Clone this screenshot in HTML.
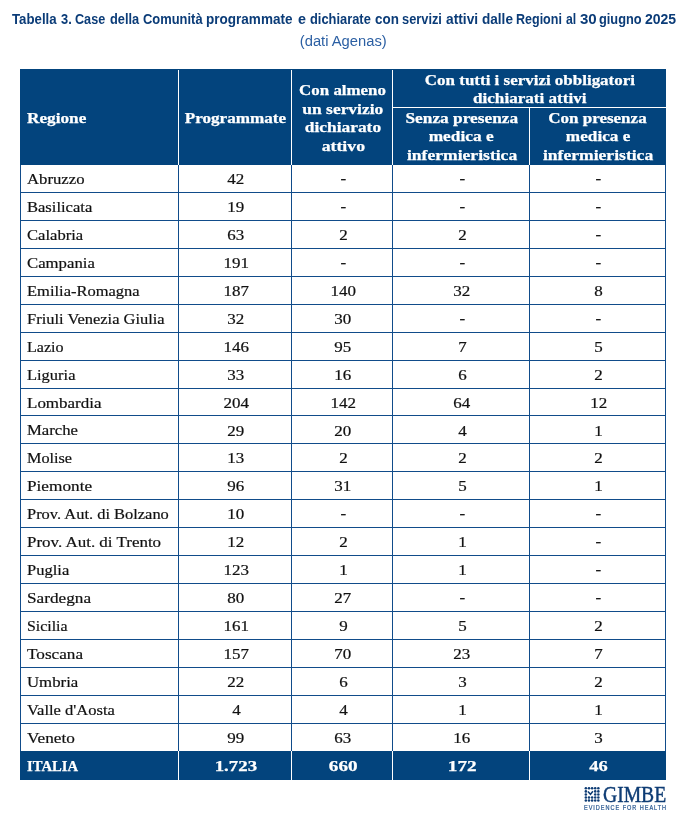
<!DOCTYPE html>
<html><head><meta charset="utf-8"><title>Tabella 3</title>
<style>
html,body{margin:0;padding:0;background:#fff;}
body{width:685px;height:822px;position:relative;overflow:hidden;font-family:"Liberation Serif",serif;}
.abs{position:absolute;}
#wrap{position:absolute;left:0;top:0;width:685px;height:822px;will-change:transform;}
.s{display:inline-block;white-space:nowrap;position:relative;}
.title{top:9px;font-family:"Liberation Sans",sans-serif;font-weight:bold;font-size:14.2px;color:#0B3C78;white-space:nowrap;line-height:20px;}
.title .s{transform-origin:0 50%;}
.sub{left:0;width:688px;top:31px;text-align:center;font-family:"Liberation Sans",sans-serif;font-size:14px;color:#2B5FA3;white-space:nowrap;line-height:20px;}
.hl{position:absolute;height:1px;background:#114C8A;}
.vl{position:absolute;width:1px;background:#114C8A;}
.c{position:absolute;font-size:15.0px;color:#111;line-height:20px;white-space:nowrap;}
.c.l .s{transform-origin:0 50%;}
.n{text-align:center;}
.c.n{font-size:13.6px;}
.c{-webkit-text-stroke:0.2px #111;}
.h{position:absolute;color:#fff;font-weight:bold;font-size:15.0px;line-height:18.5px;text-align:center;white-space:nowrap;}
.h.l .s{transform-origin:0 50%;}
.h,.t{-webkit-text-stroke:0.25px #fff;}
.t{position:absolute;color:#fff;font-weight:bold;font-size:15.0px;line-height:20px;white-space:nowrap;}
.t.l .s{transform-origin:0 50%;}
</style></head><body><div id="wrap">
<div class="abs title" style="left:12.2px"><span class="s" id="tw0" style="left:-0.54px;transform:scaleX(0.9322)">Tabella</span></div><div class="abs title" style="left:61.0px"><span class="s" id="tw1" style="left:-0.23px;transform:scaleX(0.9069)">3.</span></div><div class="abs title" style="left:75.6px"><span class="s" id="tw2" style="left:-0.42px;transform:scaleX(0.8898)">Case</span></div><div class="abs title" style="left:110.3px"><span class="s" id="tw3" style="left:-0.56px;transform:scaleX(0.9025)">della</span></div><div class="abs title" style="left:143.2px"><span class="s" id="tw4" style="left:-0.38px;transform:scaleX(0.9105)">Comunità</span></div><div class="abs title" style="left:207.0px"><span class="s" id="tw5" style="left:-1.40px;transform:scaleX(0.9536)">programmate</span></div><div class="abs title" style="left:298.6px"><span class="s" id="tw6" style="left:-0.71px;transform:scaleX(1.0122)">e</span></div><div class="abs title" style="left:311.0px"><span class="s" id="tw7" style="left:-0.63px;transform:scaleX(0.9074)">dichiarate</span></div><div class="abs title" style="left:375.8px"><span class="s" id="tw8" style="left:-0.77px;transform:scaleX(0.9455)">con</span></div><div class="abs title" style="left:402.6px"><span class="s" id="tw9" style="left:-0.29px;transform:scaleX(0.9035)">servizi</span></div><div class="abs title" style="left:445.8px"><span class="s" id="tw10" style="left:-0.30px;transform:scaleX(0.9696)">attivi</span></div><div class="abs title" style="left:481.9px"><span class="s" id="tw11" style="left:-0.30px;transform:scaleX(0.9566)">dalle</span></div><div class="abs title" style="left:517.0px"><span class="s" id="tw12" style="left:-1.12px;transform:scaleX(0.8818)">Regioni</span></div><div class="abs title" style="left:566.3px"><span class="s" id="tw13" style="left:-0.72px;transform:scaleX(0.8638)">al</span></div><div class="abs title" style="left:580.3px"><span class="s" id="tw14" style="left:-0.62px;transform:scaleX(1.0611)">30</span></div><div class="abs title" style="left:599.7px"><span class="s" id="tw15" style="left:-0.34px;transform:scaleX(0.9017)">giugno</span></div><div class="abs title" style="left:645.9px"><span class="s" id="tw16" style="left:-0.73px;transform:scaleX(0.9871)">2025</span></div>
<div class="abs sub"><span class="s" id="sub" style="left:-0.49px;transform:scaleX(1.0533)">(dati Agenas)</span></div>

<div class="abs" style="left:20px;top:69px;width:646.2px;height:96.0px;background:#03447D"></div>
<div class="abs" style="left:178.0px;top:70px;width:1.2px;height:94.5px;background:#fff"></div>
<div class="abs" style="left:291.0px;top:70px;width:1.2px;height:94.5px;background:#fff"></div>
<div class="abs" style="left:392.1px;top:70px;width:1.2px;height:94.5px;background:#fff"></div>
<div class="abs" style="left:528.8px;top:107.5px;width:1.2px;height:57.0px;background:#fff"></div>
<div class="abs" style="left:392.6px;top:106.6px;width:273.1px;height:1.2px;background:#fff"></div>
<div class="h l" style="left:27px;top:109px;text-align:left"><span class="s" id="hReg" style="left:0.30px;transform:scaleX(1.1479)">Regione</span></div>
<div class="h" style="left:178.5px;width:113.0px;top:109px"><span class="s" id="hProg" style="left:0.24px;transform:scaleX(1.1414)">Programmate</span></div>
<div class="h" style="left:291.5px;width:101.10000000000002px;top:81.2px"><span class="s" id="hA1" style="left:0.76px;transform:scaleX(1.1267)">Con almeno</span><br><span class="s" id="hA2" style="left:1.23px;transform:scaleX(1.1620)">un servizio</span><br><span class="s" id="hA3" style="left:0.46px;transform:scaleX(1.1601)">dichiarato</span><br><span class="s" id="hA4" style="left:0.94px;transform:scaleX(1.1833)">attivo</span></div>
<div class="h" style="left:392.6px;width:273.1px;top:70.5px"><span class="s" id="hT1" style="left:0.55px;transform:scaleX(1.1305)">Con tutti i servizi obbligatori</span><br><span class="s" id="hT2" style="left:0.40px;transform:scaleX(1.1403)">dichiarati attivi</span></div>
<div class="h" style="left:392.6px;width:136.69999999999993px;top:108.5px"><span class="s" id="hS1" style="left:0.58px;transform:scaleX(1.1537)">Senza presenza</span><br><span class="s" id="hS2" style="left:0.57px;transform:scaleX(1.1543)">medica e</span><br><span class="s" id="hS3" style="left:1.11px;transform:scaleX(1.1717)">infermieristica</span></div>
<div class="h" style="left:529.3px;width:136.4000000000001px;top:108.5px"><span class="s" id="hC1" style="left:0.12px;transform:scaleX(1.1345)">Con presenza</span><br><span class="s" id="hC2" style="left:0.84px;transform:scaleX(1.1468)">medica e</span><br><span class="s" id="hC3" style="left:0.56px;transform:scaleX(1.1717)">infermieristica</span></div>
<div class="hl" style="left:20px;top:191.94px;width:645.7px"></div>
<div class="hl" style="left:20px;top:219.88px;width:645.7px"></div>
<div class="hl" style="left:20px;top:247.81px;width:645.7px"></div>
<div class="hl" style="left:20px;top:275.75px;width:645.7px"></div>
<div class="hl" style="left:20px;top:303.69px;width:645.7px"></div>
<div class="hl" style="left:20px;top:331.63px;width:645.7px"></div>
<div class="hl" style="left:20px;top:359.57px;width:645.7px"></div>
<div class="hl" style="left:20px;top:387.50px;width:645.7px"></div>
<div class="hl" style="left:20px;top:415.44px;width:645.7px"></div>
<div class="hl" style="left:20px;top:443.38px;width:645.7px"></div>
<div class="hl" style="left:20px;top:471.32px;width:645.7px"></div>
<div class="hl" style="left:20px;top:499.26px;width:645.7px"></div>
<div class="hl" style="left:20px;top:527.20px;width:645.7px"></div>
<div class="hl" style="left:20px;top:555.13px;width:645.7px"></div>
<div class="hl" style="left:20px;top:583.07px;width:645.7px"></div>
<div class="hl" style="left:20px;top:611.01px;width:645.7px"></div>
<div class="hl" style="left:20px;top:638.95px;width:645.7px"></div>
<div class="hl" style="left:20px;top:666.89px;width:645.7px"></div>
<div class="hl" style="left:20px;top:694.82px;width:645.7px"></div>
<div class="hl" style="left:20px;top:722.76px;width:645.7px"></div>
<div class="vl" style="left:19.5px;top:164.5px;height:586.5px"></div>
<div class="vl" style="left:178.0px;top:164.5px;height:586.5px"></div>
<div class="vl" style="left:291.0px;top:164.5px;height:586.5px"></div>
<div class="vl" style="left:392.1px;top:164.5px;height:586.5px"></div>
<div class="vl" style="left:528.8px;top:164.5px;height:586.5px"></div>
<div class="vl" style="left:665.2px;top:164.5px;height:586.5px"></div>
<div class="c l" style="left:27px;top:169.00px"><span class="s" id="r0" style="left:-0.07px;transform:scaleX(1.1136)">Abruzzo</span></div>
<div class="c n" style="left:179.5px;width:113.0px;top:170.10px"><span class="s" style="transform:scaleX(1.2488970588235293)">42</span></div>
<div class="c n" style="left:292.5px;width:101.10000000000002px;top:170.10px"><span style="position:relative;top:-0.9px;display:inline-block;transform:scaleX(1.25)">-</span></div>
<div class="c n" style="left:393.6px;width:136.69999999999993px;top:170.10px"><span style="position:relative;top:-0.9px;display:inline-block;transform:scaleX(1.25)">-</span></div>
<div class="c n" style="left:530.3px;width:136.4000000000001px;top:170.10px"><span style="position:relative;top:-0.9px;display:inline-block;transform:scaleX(1.25)">-</span></div>
<div class="c l" style="left:27px;top:196.94px"><span class="s" id="r1" style="left:0.24px;transform:scaleX(1.1027)">Basilicata</span></div>
<div class="c n" style="left:179.5px;width:113.0px;top:198.04px"><span class="s" style="transform:scaleX(1.2488970588235293)">19</span></div>
<div class="c n" style="left:292.5px;width:101.10000000000002px;top:198.04px"><span style="position:relative;top:-0.9px;display:inline-block;transform:scaleX(1.25)">-</span></div>
<div class="c n" style="left:393.6px;width:136.69999999999993px;top:198.04px"><span style="position:relative;top:-0.9px;display:inline-block;transform:scaleX(1.25)">-</span></div>
<div class="c n" style="left:530.3px;width:136.4000000000001px;top:198.04px"><span style="position:relative;top:-0.9px;display:inline-block;transform:scaleX(1.25)">-</span></div>
<div class="c l" style="left:27px;top:224.88px"><span class="s" id="r2" style="left:0.24px;transform:scaleX(1.1057)">Calabria</span></div>
<div class="c n" style="left:179.5px;width:113.0px;top:225.98px"><span class="s" style="transform:scaleX(1.2488970588235293)">63</span></div>
<div class="c n" style="left:292.5px;width:101.10000000000002px;top:225.98px"><span class="s" style="transform:scaleX(1.2488970588235293)">2</span></div>
<div class="c n" style="left:393.6px;width:136.69999999999993px;top:225.98px"><span class="s" style="transform:scaleX(1.2488970588235293)">2</span></div>
<div class="c n" style="left:530.3px;width:136.4000000000001px;top:225.98px"><span style="position:relative;top:-0.9px;display:inline-block;transform:scaleX(1.25)">-</span></div>
<div class="c l" style="left:27px;top:252.81px"><span class="s" id="r3" style="left:0.32px;transform:scaleX(1.1154)">Campania</span></div>
<div class="c n" style="left:179.5px;width:113.0px;top:253.91px"><span class="s" style="transform:scaleX(1.2488970588235293)">191</span></div>
<div class="c n" style="left:292.5px;width:101.10000000000002px;top:253.91px"><span style="position:relative;top:-0.9px;display:inline-block;transform:scaleX(1.25)">-</span></div>
<div class="c n" style="left:393.6px;width:136.69999999999993px;top:253.91px"><span style="position:relative;top:-0.9px;display:inline-block;transform:scaleX(1.25)">-</span></div>
<div class="c n" style="left:530.3px;width:136.4000000000001px;top:253.91px"><span style="position:relative;top:-0.9px;display:inline-block;transform:scaleX(1.25)">-</span></div>
<div class="c l" style="left:27px;top:280.75px"><span class="s" id="r4" style="left:0.24px;transform:scaleX(1.0988)">Emilia-Romagna</span></div>
<div class="c n" style="left:179.5px;width:113.0px;top:281.85px"><span class="s" style="transform:scaleX(1.2488970588235293)">187</span></div>
<div class="c n" style="left:292.5px;width:101.10000000000002px;top:281.85px"><span class="s" style="transform:scaleX(1.2488970588235293)">140</span></div>
<div class="c n" style="left:393.6px;width:136.69999999999993px;top:281.85px"><span class="s" style="transform:scaleX(1.2488970588235293)">32</span></div>
<div class="c n" style="left:530.3px;width:136.4000000000001px;top:281.85px"><span class="s" style="transform:scaleX(1.2488970588235293)">8</span></div>
<div class="c l" style="left:27px;top:308.69px"><span class="s" id="r5" style="left:0.35px;transform:scaleX(1.0966)">Friuli Venezia Giulia</span></div>
<div class="c n" style="left:179.5px;width:113.0px;top:309.79px"><span class="s" style="transform:scaleX(1.2488970588235293)">32</span></div>
<div class="c n" style="left:292.5px;width:101.10000000000002px;top:309.79px"><span class="s" style="transform:scaleX(1.2488970588235293)">30</span></div>
<div class="c n" style="left:393.6px;width:136.69999999999993px;top:309.79px"><span style="position:relative;top:-0.9px;display:inline-block;transform:scaleX(1.25)">-</span></div>
<div class="c n" style="left:530.3px;width:136.4000000000001px;top:309.79px"><span style="position:relative;top:-0.9px;display:inline-block;transform:scaleX(1.25)">-</span></div>
<div class="c l" style="left:27px;top:336.63px"><span class="s" id="r6" style="left:0.31px;transform:scaleX(1.0717)">Lazio</span></div>
<div class="c n" style="left:179.5px;width:113.0px;top:337.73px"><span class="s" style="transform:scaleX(1.2488970588235293)">146</span></div>
<div class="c n" style="left:292.5px;width:101.10000000000002px;top:337.73px"><span class="s" style="transform:scaleX(1.2488970588235293)">95</span></div>
<div class="c n" style="left:393.6px;width:136.69999999999993px;top:337.73px"><span class="s" style="transform:scaleX(1.2488970588235293)">7</span></div>
<div class="c n" style="left:530.3px;width:136.4000000000001px;top:337.73px"><span class="s" style="transform:scaleX(1.2488970588235293)">5</span></div>
<div class="c l" style="left:27px;top:364.57px"><span class="s" id="r7" style="left:0.24px;transform:scaleX(1.0969)">Liguria</span></div>
<div class="c n" style="left:179.5px;width:113.0px;top:365.67px"><span class="s" style="transform:scaleX(1.2488970588235293)">33</span></div>
<div class="c n" style="left:292.5px;width:101.10000000000002px;top:365.67px"><span class="s" style="transform:scaleX(1.2488970588235293)">16</span></div>
<div class="c n" style="left:393.6px;width:136.69999999999993px;top:365.67px"><span class="s" style="transform:scaleX(1.2488970588235293)">6</span></div>
<div class="c n" style="left:530.3px;width:136.4000000000001px;top:365.67px"><span class="s" style="transform:scaleX(1.2488970588235293)">2</span></div>
<div class="c l" style="left:27px;top:392.50px"><span class="s" id="r8" style="left:-0.16px;transform:scaleX(1.1324)">Lombardia</span></div>
<div class="c n" style="left:179.5px;width:113.0px;top:393.60px"><span class="s" style="transform:scaleX(1.2488970588235293)">204</span></div>
<div class="c n" style="left:292.5px;width:101.10000000000002px;top:393.60px"><span class="s" style="transform:scaleX(1.2488970588235293)">142</span></div>
<div class="c n" style="left:393.6px;width:136.69999999999993px;top:393.60px"><span class="s" style="transform:scaleX(1.2488970588235293)">64</span></div>
<div class="c n" style="left:530.3px;width:136.4000000000001px;top:393.60px"><span class="s" style="transform:scaleX(1.2488970588235293)">12</span></div>
<div class="c l" style="left:27px;top:420.44px"><span class="s" id="r9" style="left:0.15px;transform:scaleX(1.1119)">Marche</span></div>
<div class="c n" style="left:179.5px;width:113.0px;top:421.54px"><span class="s" style="transform:scaleX(1.2488970588235293)">29</span></div>
<div class="c n" style="left:292.5px;width:101.10000000000002px;top:421.54px"><span class="s" style="transform:scaleX(1.2488970588235293)">20</span></div>
<div class="c n" style="left:393.6px;width:136.69999999999993px;top:421.54px"><span class="s" style="transform:scaleX(1.2488970588235293)">4</span></div>
<div class="c n" style="left:530.3px;width:136.4000000000001px;top:421.54px"><span class="s" style="transform:scaleX(1.2488970588235293)">1</span></div>
<div class="c l" style="left:27px;top:448.38px"><span class="s" id="r10" style="left:0.15px;transform:scaleX(1.0814)">Molise</span></div>
<div class="c n" style="left:179.5px;width:113.0px;top:449.48px"><span class="s" style="transform:scaleX(1.2488970588235293)">13</span></div>
<div class="c n" style="left:292.5px;width:101.10000000000002px;top:449.48px"><span class="s" style="transform:scaleX(1.2488970588235293)">2</span></div>
<div class="c n" style="left:393.6px;width:136.69999999999993px;top:449.48px"><span class="s" style="transform:scaleX(1.2488970588235293)">2</span></div>
<div class="c n" style="left:530.3px;width:136.4000000000001px;top:449.48px"><span class="s" style="transform:scaleX(1.2488970588235293)">2</span></div>
<div class="c l" style="left:27px;top:476.32px"><span class="s" id="r11" style="left:0.35px;transform:scaleX(1.1484)">Piemonte</span></div>
<div class="c n" style="left:179.5px;width:113.0px;top:477.42px"><span class="s" style="transform:scaleX(1.2488970588235293)">96</span></div>
<div class="c n" style="left:292.5px;width:101.10000000000002px;top:477.42px"><span class="s" style="transform:scaleX(1.2488970588235293)">31</span></div>
<div class="c n" style="left:393.6px;width:136.69999999999993px;top:477.42px"><span class="s" style="transform:scaleX(1.2488970588235293)">5</span></div>
<div class="c n" style="left:530.3px;width:136.4000000000001px;top:477.42px"><span class="s" style="transform:scaleX(1.2488970588235293)">1</span></div>
<div class="c l" style="left:27px;top:504.26px"><span class="s" id="r12" style="left:0.04px;transform:scaleX(1.0957)">Prov. Aut. di Bolzano</span></div>
<div class="c n" style="left:179.5px;width:113.0px;top:505.36px"><span class="s" style="transform:scaleX(1.2488970588235293)">10</span></div>
<div class="c n" style="left:292.5px;width:101.10000000000002px;top:505.36px"><span style="position:relative;top:-0.9px;display:inline-block;transform:scaleX(1.25)">-</span></div>
<div class="c n" style="left:393.6px;width:136.69999999999993px;top:505.36px"><span style="position:relative;top:-0.9px;display:inline-block;transform:scaleX(1.25)">-</span></div>
<div class="c n" style="left:530.3px;width:136.4000000000001px;top:505.36px"><span style="position:relative;top:-0.9px;display:inline-block;transform:scaleX(1.25)">-</span></div>
<div class="c l" style="left:27px;top:532.20px"><span class="s" id="r13" style="left:-0.48px;transform:scaleX(1.1301)">Prov. Aut. di Trento</span></div>
<div class="c n" style="left:179.5px;width:113.0px;top:533.30px"><span class="s" style="transform:scaleX(1.2488970588235293)">12</span></div>
<div class="c n" style="left:292.5px;width:101.10000000000002px;top:533.30px"><span class="s" style="transform:scaleX(1.2488970588235293)">2</span></div>
<div class="c n" style="left:393.6px;width:136.69999999999993px;top:533.30px"><span class="s" style="transform:scaleX(1.2488970588235293)">1</span></div>
<div class="c n" style="left:530.3px;width:136.4000000000001px;top:533.30px"><span style="position:relative;top:-0.9px;display:inline-block;transform:scaleX(1.25)">-</span></div>
<div class="c l" style="left:27px;top:560.13px"><span class="s" id="r14" style="left:0.04px;transform:scaleX(1.1010)">Puglia</span></div>
<div class="c n" style="left:179.5px;width:113.0px;top:561.23px"><span class="s" style="transform:scaleX(1.2488970588235293)">123</span></div>
<div class="c n" style="left:292.5px;width:101.10000000000002px;top:561.23px"><span class="s" style="transform:scaleX(1.2488970588235293)">1</span></div>
<div class="c n" style="left:393.6px;width:136.69999999999993px;top:561.23px"><span class="s" style="transform:scaleX(1.2488970588235293)">1</span></div>
<div class="c n" style="left:530.3px;width:136.4000000000001px;top:561.23px"><span style="position:relative;top:-0.9px;display:inline-block;transform:scaleX(1.25)">-</span></div>
<div class="c l" style="left:27px;top:588.07px"><span class="s" id="r15" style="left:-0.38px;transform:scaleX(1.1478)">Sardegna</span></div>
<div class="c n" style="left:179.5px;width:113.0px;top:589.17px"><span class="s" style="transform:scaleX(1.2488970588235293)">80</span></div>
<div class="c n" style="left:292.5px;width:101.10000000000002px;top:589.17px"><span class="s" style="transform:scaleX(1.2488970588235293)">27</span></div>
<div class="c n" style="left:393.6px;width:136.69999999999993px;top:589.17px"><span style="position:relative;top:-0.9px;display:inline-block;transform:scaleX(1.25)">-</span></div>
<div class="c n" style="left:530.3px;width:136.4000000000001px;top:589.17px"><span style="position:relative;top:-0.9px;display:inline-block;transform:scaleX(1.25)">-</span></div>
<div class="c l" style="left:27px;top:616.01px"><span class="s" id="r16" style="left:-0.24px;transform:scaleX(1.0572)">Sicilia</span></div>
<div class="c n" style="left:179.5px;width:113.0px;top:617.11px"><span class="s" style="transform:scaleX(1.2488970588235293)">161</span></div>
<div class="c n" style="left:292.5px;width:101.10000000000002px;top:617.11px"><span class="s" style="transform:scaleX(1.2488970588235293)">9</span></div>
<div class="c n" style="left:393.6px;width:136.69999999999993px;top:617.11px"><span class="s" style="transform:scaleX(1.2488970588235293)">5</span></div>
<div class="c n" style="left:530.3px;width:136.4000000000001px;top:617.11px"><span class="s" style="transform:scaleX(1.2488970588235293)">2</span></div>
<div class="c l" style="left:27px;top:643.95px"><span class="s" id="r17" style="left:0.29px;transform:scaleX(1.1448)">Toscana</span></div>
<div class="c n" style="left:179.5px;width:113.0px;top:645.05px"><span class="s" style="transform:scaleX(1.2488970588235293)">157</span></div>
<div class="c n" style="left:292.5px;width:101.10000000000002px;top:645.05px"><span class="s" style="transform:scaleX(1.2488970588235293)">70</span></div>
<div class="c n" style="left:393.6px;width:136.69999999999993px;top:645.05px"><span class="s" style="transform:scaleX(1.2488970588235293)">23</span></div>
<div class="c n" style="left:530.3px;width:136.4000000000001px;top:645.05px"><span class="s" style="transform:scaleX(1.2488970588235293)">7</span></div>
<div class="c l" style="left:27px;top:671.89px"><span class="s" id="r18" style="left:0.14px;transform:scaleX(1.1185)">Umbria</span></div>
<div class="c n" style="left:179.5px;width:113.0px;top:672.99px"><span class="s" style="transform:scaleX(1.2488970588235293)">22</span></div>
<div class="c n" style="left:292.5px;width:101.10000000000002px;top:672.99px"><span class="s" style="transform:scaleX(1.2488970588235293)">6</span></div>
<div class="c n" style="left:393.6px;width:136.69999999999993px;top:672.99px"><span class="s" style="transform:scaleX(1.2488970588235293)">3</span></div>
<div class="c n" style="left:530.3px;width:136.4000000000001px;top:672.99px"><span class="s" style="transform:scaleX(1.2488970588235293)">2</span></div>
<div class="c l" style="left:27px;top:699.82px"><span class="s" id="r19" style="left:-0.16px;transform:scaleX(1.1015)">Valle d'Aosta</span></div>
<div class="c n" style="left:179.5px;width:113.0px;top:700.92px"><span class="s" style="transform:scaleX(1.2488970588235293)">4</span></div>
<div class="c n" style="left:292.5px;width:101.10000000000002px;top:700.92px"><span class="s" style="transform:scaleX(1.2488970588235293)">4</span></div>
<div class="c n" style="left:393.6px;width:136.69999999999993px;top:700.92px"><span class="s" style="transform:scaleX(1.2488970588235293)">1</span></div>
<div class="c n" style="left:530.3px;width:136.4000000000001px;top:700.92px"><span class="s" style="transform:scaleX(1.2488970588235293)">1</span></div>
<div class="c l" style="left:27px;top:727.76px"><span class="s" id="r20" style="left:0.36px;transform:scaleX(1.1480)">Veneto</span></div>
<div class="c n" style="left:179.5px;width:113.0px;top:728.86px"><span class="s" style="transform:scaleX(1.2488970588235293)">99</span></div>
<div class="c n" style="left:292.5px;width:101.10000000000002px;top:728.86px"><span class="s" style="transform:scaleX(1.2488970588235293)">63</span></div>
<div class="c n" style="left:393.6px;width:136.69999999999993px;top:728.86px"><span class="s" style="transform:scaleX(1.2488970588235293)">16</span></div>
<div class="c n" style="left:530.3px;width:136.4000000000001px;top:728.86px"><span class="s" style="transform:scaleX(1.2488970588235293)">3</span></div>
<div class="abs" style="left:20px;top:751px;width:646.2px;height:28.7px;background:#03447D"></div>
<div class="abs" style="left:178.0px;top:751px;width:1.2px;height:28.7px;background:#fff"></div>
<div class="abs" style="left:291.0px;top:751px;width:1.2px;height:28.7px;background:#fff"></div>
<div class="abs" style="left:392.1px;top:751px;width:1.2px;height:28.7px;background:#fff"></div>
<div class="abs" style="left:528.8px;top:751px;width:1.2px;height:28.7px;background:#fff"></div>
<div class="t l" style="left:27px;top:755.5px"><span class="s" id="tIt" style="left:-0.04px;transform:scaleX(0.9762)">ITALIA</span></div>
<div class="t n" style="left:178.5px;width:113.0px;top:755.5px"><span class="s" id="t1" style="left:0.76px;transform:scaleX(1.2552)">1.723</span></div>
<div class="t n" style="left:291.5px;width:101.10000000000002px;top:755.5px"><span class="s" id="t2" style="left:0.78px;transform:scaleX(1.2794)">660</span></div>
<div class="t n" style="left:392.6px;width:136.69999999999993px;top:755.5px"><span class="s" id="t3" style="left:1.52px;transform:scaleX(1.2796)">172</span></div>
<div class="t n" style="left:529.3px;width:136.4000000000001px;top:755.5px"><span class="s" id="t4" style="left:0.74px;transform:scaleX(1.2265)">46</span></div>
<svg class="abs" style="left:0;top:0" width="685" height="822" viewBox="0 0 685 822"><g fill="#0E3C74"><circle cx="585.86" cy="788.33" r="1.27"/><circle cx="588.98" cy="788.33" r="1.27"/><circle cx="592.10" cy="788.33" r="1.27"/><circle cx="595.22" cy="788.33" r="1.27"/><circle cx="598.34" cy="788.33" r="1.27"/><circle cx="585.86" cy="791.39" r="1.27"/><circle cx="595.22" cy="791.39" r="1.27"/><circle cx="598.34" cy="791.39" r="1.27"/><circle cx="585.86" cy="794.45" r="1.27"/><circle cx="595.22" cy="794.45" r="1.27"/><circle cx="598.34" cy="794.45" r="1.27"/><circle cx="585.86" cy="797.51" r="1.27"/><circle cx="588.98" cy="797.51" r="1.27"/><circle cx="592.10" cy="797.51" r="1.27"/><circle cx="595.22" cy="797.51" r="1.27"/><circle cx="598.34" cy="797.51" r="1.27"/><circle cx="585.86" cy="800.57" r="1.27"/><circle cx="588.98" cy="800.57" r="1.27"/><circle cx="592.10" cy="800.57" r="1.27"/><circle cx="595.22" cy="800.57" r="1.27"/><circle cx="598.34" cy="800.57" r="1.27"/></g><path d="M587.9 791.5 L590.5 794.3 L592.9 791.3" fill="none" stroke="#0E3C74" stroke-width="1.5"/></svg>
<div class="abs" style="left:605.3px;top:785.8px;font-size:23px;line-height:18px;color:#0E3C74;-webkit-text-stroke:0.45px #0E3C74;white-space:nowrap"><span class="s" id="gimbe" style="transform-origin:0 50%;left:-2.25px;transform:scaleX(0.8525)">GIMBE</span></div>
<div class="abs" style="left:584.1px;top:802.9px;font-family:'Liberation Sans',sans-serif;font-weight:normal;-webkit-text-stroke:0.22px #2A5890;font-size:6.5px;line-height:10px;letter-spacing:1.15px;color:#2A5890;white-space:nowrap"><span class="s" id="efh" style="transform-origin:0 50%;left:0.40px;transform:scaleX(0.8516)">EVIDENCE FOR HEALTH</span></div>
</div></body></html>
